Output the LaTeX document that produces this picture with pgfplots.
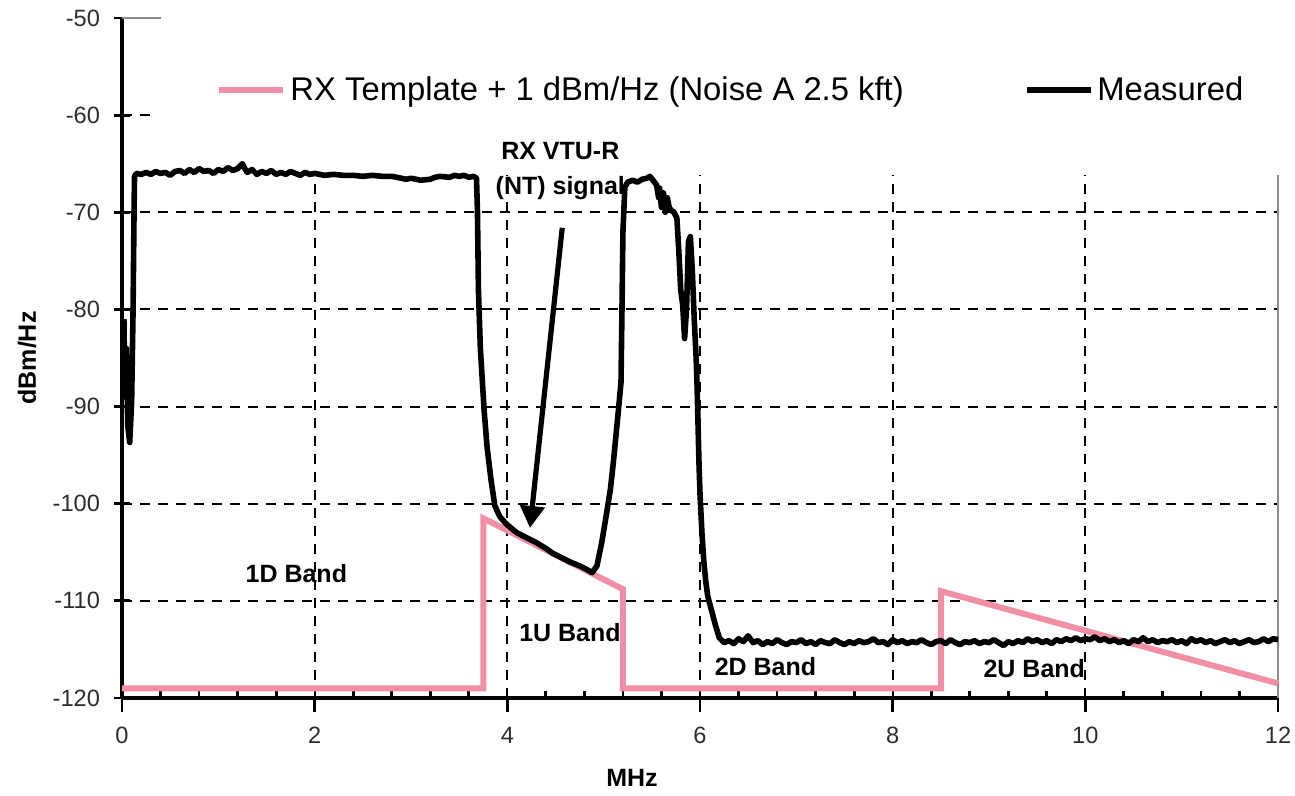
\documentclass[border=0pt]{standalone}
\usepackage{pgfplots}
\pgfplotsset{compat=1.18}
\usepackage{fontspec}
\setmainfont{Liberation Sans}
\usetikzlibrary{arrows.meta}
\definecolor{tmplpink}{RGB}{240,143,166}
\definecolor{ticktext}{RGB}{45,45,45}

\begin{document}
\begin{tikzpicture}
\begin{axis}[
  scale only axis, width=578pt, height=340pt,
  xmin=0, xmax=12, ymin=-120, ymax=-50,
  clip=false,
  axis lines*=left,
  axis line style={line width=2pt, black},
  xtick={0,2,...,12}, ytick={-120,-110,...,-50},
  minor x tick num=4,
  tick align=center,
  major tick length=8pt, minor tick length=3.5pt,
  every tick/.style={black, line width=1.4pt},
  major x tick style={yshift=-3pt},
  minor x tick style={yshift=1.75pt},
  /pgf/number format/assume math mode=true,
  tick label style={font=\fontsize{11.8}{14}\selectfont, text=ticktext},
  yticklabel style={xshift=-3.5pt},
  xticklabel style={yshift=-7pt},
  legend columns=2,
  legend style={at={(axis cs:0.976,-57.4)}, anchor=west, draw=none, fill=none,
    inner sep=0pt, font=\fontsize{16.4}{19}\selectfont,
    nodes={inner sep=2pt},
    /tikz/every even column/.append style={column sep=58pt}},
  legend image code/.code={\draw[#1] (0pt,0pt) -- (32pt,0pt);},
]
% manual grid
\foreach \yy in {-70,-80,-90,-100,-110} {
  \edef\tmp{\noexpand\draw[black, line width=1.05pt, dash pattern=on 5pt off 4pt] (axis cs:0,\yy) -- (axis cs:12,\yy);}\tmp
}
\draw[black, line width=1.05pt, dash pattern=on 5pt off 4pt] (axis cs:0,-60) -- (axis cs:0.3,-60);
\foreach \xx in {2,4,6,8,10} {
  \edef\tmp{\noexpand\draw[black, line width=1.05pt, dash pattern=on 5pt off 4pt] (axis cs:\xx,-120) -- (axis cs:\xx,-66.2);}\tmp
}
\draw[black!45, line width=1pt] (axis cs:12,-120) -- (axis cs:12,-66.2);
\draw[black!45, line width=1pt] (axis cs:0,-50) -- (axis cs:0.4,-50);

\addplot[tmplpink, line width=3pt] coordinates {
(0,-119) (3.75,-119) (3.75,-101.5) (5.2,-108.8) (5.2,-119) (8.5,-119) (8.5,-109) (12,-118.5)
};
\addlegendentry{RX Template + 1 dBm/Hz (Noise A 2.5 kft)}

\addplot[black, line width=2.8pt, line join=round] coordinates {
(0.02,-81) (0.03,-89) (0.045,-84) (0.06,-92) (0.08,-93.7) (0.1,-89.5) (0.115,-80) (0.125,-70)
(0.13,-66.3) (0.15,-66.0) (0.2,-66.1) (0.25,-65.9) (0.3,-66.1) (0.35,-65.8) (0.4,-66.0) (0.45,-65.9)
(0.5,-66.2) (0.55,-65.8) (0.6,-65.7) (0.65,-66.0) (0.7,-65.6) (0.75,-65.9) (0.8,-65.5) (0.85,-65.8)
(0.9,-65.7) (0.95,-66.0) (1.0,-65.6) (1.05,-65.8) (1.1,-65.4) (1.15,-65.7) (1.2,-65.5) (1.25,-65.0)
(1.28,-65.6) (1.3,-65.9) (1.35,-65.6) (1.4,-66.1) (1.45,-65.8) (1.5,-66.0) (1.55,-65.7) (1.6,-66.1)
(1.65,-65.9) (1.7,-66.1) (1.75,-65.8) (1.8,-66.0) (1.85,-66.2) (1.9,-65.9) (1.95,-66.1) (2.0,-66.0)
(2.1,-66.2) (2.2,-66.1) (2.3,-66.2) (2.4,-66.2) (2.5,-66.3) (2.6,-66.2) (2.7,-66.3) (2.8,-66.3)
(2.9,-66.5) (2.95,-66.6) (3.0,-66.5) (3.1,-66.7) (3.2,-66.6) (3.25,-66.4) (3.3,-66.3) (3.4,-66.4)
(3.45,-66.2) (3.5,-66.3) (3.55,-66.2) (3.6,-66.4) (3.65,-66.3) (3.68,-66.5)
(3.69,-70) (3.70,-78) (3.72,-84) (3.74,-87.3) (3.76,-90.5) (3.79,-94.2) (3.83,-97.5) (3.87,-100.2)
(3.92,-101.3) (3.98,-102.0) (4.05,-102.6) (4.1,-103.0) (4.2,-103.5) (4.3,-104.0) (4.4,-104.6)
(4.47,-105.1) (4.55,-105.5) (4.65,-106.0) (4.75,-106.4) (4.83,-106.8) (4.88,-107.1) (4.93,-106.4)
(4.98,-104) (5.03,-101) (5.07,-98.5) (5.1,-95.8) (5.15,-90.7) (5.18,-87.5) (5.19,-80) (5.20,-72)
(5.22,-67.4) (5.25,-66.9) (5.3,-66.7) (5.35,-66.9) (5.4,-66.6) (5.45,-66.5) (5.48,-66.3) (5.52,-66.8)
(5.55,-67.2) (5.57,-68.5) (5.58,-67.5) (5.60,-69.5) (5.62,-68) (5.64,-70) (5.66,-68.5) (5.68,-69.5)
(5.70,-69.8) (5.73,-70.0) (5.76,-70.6) (5.78,-74) (5.80,-78) (5.82,-79.5) (5.84,-83) (5.86,-80)
(5.88,-73) (5.90,-72.5) (5.92,-76) (5.94,-81) (5.96,-85) (5.97,-88) (5.98,-92) (5.99,-96)
(6.0,-99) (6.02,-103) (6.04,-106) (6.06,-108) (6.08,-109.5) (6.12,-111) (6.16,-112.5) (6.2,-113.8)
(6.25,-114.3) (6.3,-114.1) (6.35,-114.4) (6.4,-113.9) (6.45,-114.2) (6.5,-113.6) (6.55,-114.3)
(6.6,-114.1) (6.65,-114.5) (6.7,-114.2) (6.75,-114.4) (6.8,-114.0) (6.85,-114.3) (6.9,-114.5)
(6.95,-114.2) (7.0,-114.3) (7.05,-114.0) (7.1,-114.4) (7.15,-114.2) (7.2,-114.5) (7.25,-114.1)
(7.3,-114.3) (7.35,-114.4) (7.4,-114.0) (7.45,-114.3) (7.5,-114.5) (7.55,-114.2) (7.6,-114.4)
(7.65,-114.1) (7.7,-114.3) (7.75,-114.2) (7.8,-113.9) (7.85,-114.3) (7.9,-114.2) (7.95,-114.5)
(8.0,-114.0) (8.05,-114.3) (8.1,-114.1) (8.15,-114.4) (8.2,-114.2) (8.25,-114.3) (8.3,-114.0)
(8.35,-114.3) (8.4,-114.5) (8.45,-114.2) (8.5,-114.1) (8.55,-114.4) (8.6,-114.0) (8.65,-114.3)
(8.7,-114.5) (8.75,-114.2) (8.8,-114.3) (8.85,-114.1) (8.9,-114.4) (8.95,-114.2) (9.0,-114.3)
(9.05,-114.0) (9.1,-114.3) (9.15,-114.6) (9.2,-114.2) (9.25,-114.4) (9.3,-114.1) (9.35,-114.3)
(9.4,-113.9) (9.45,-114.2) (9.5,-114.0) (9.55,-114.3) (9.6,-114.1) (9.65,-114.4) (9.7,-114.0)
(9.75,-114.2) (9.8,-113.9) (9.85,-114.1) (9.9,-113.8) (9.95,-114.1) (10.0,-113.9) (10.05,-114.0)
(10.1,-113.7) (10.15,-114.1) (10.2,-113.9) (10.25,-114.2) (10.3,-114.0) (10.35,-114.3) (10.4,-114.1)
(10.45,-114.4) (10.5,-114.0) (10.55,-114.2) (10.6,-113.8) (10.65,-114.2) (10.7,-114.0) (10.75,-114.3)
(10.8,-114.1) (10.85,-114.2) (10.9,-114.0) (10.95,-114.3) (11.0,-114.1) (11.05,-114.4) (11.1,-113.9)
(11.15,-114.2) (11.2,-114.0) (11.25,-114.3) (11.3,-114.1) (11.35,-114.4) (11.4,-114.2) (11.45,-114.0)
(11.5,-114.3) (11.55,-114.1) (11.6,-114.4) (11.65,-114.2) (11.7,-114.0) (11.75,-114.3) (11.8,-114.2)
(11.85,-113.9) (11.9,-114.2) (11.95,-113.9) (12.0,-114.0)
};
\addlegendentry{Measured}

\node[font=\bfseries\fontsize{12.5}{17.5}\selectfont, align=center] at (axis cs:4.55,-65.8) {RX VTU-R\\(NT) signal};
\draw[black, line width=2.6pt, -{Triangle[width=12pt,length=11pt]}] (axis cs:4.57,-71.6) -- (axis cs:4.235,-102.5);
\node[font=\bfseries\fontsize{12.5}{15}\selectfont] at (axis cs:1.81,-107.2) {1D Band};
\node[font=\bfseries\fontsize{12.5}{15}\selectfont] at (axis cs:4.65,-113.3) {1U Band};
\node[font=\bfseries\fontsize{12.5}{15}\selectfont] at (axis cs:6.68,-116.8) {2D Band};
\node[font=\bfseries\fontsize{12.5}{15}\selectfont] at (axis cs:9.47,-117.0) {2U Band};
\end{axis}
\node[rotate=90, font=\bfseries\fontsize{12.5}{15}\selectfont] at ([xshift=-47.5pt]current axis.west) {dBm/Hz};
\node[font=\bfseries\fontsize{12.5}{15}\selectfont] at ([xshift=255pt,yshift=-40pt]current axis.south west) {MHz};
\pgfresetboundingbox
\path ([shift={(-61pt,-49pt)}]current axis.south west) rectangle ([shift={(8.5pt,9pt)}]current axis.north east);
\end{tikzpicture}
\end{document}
